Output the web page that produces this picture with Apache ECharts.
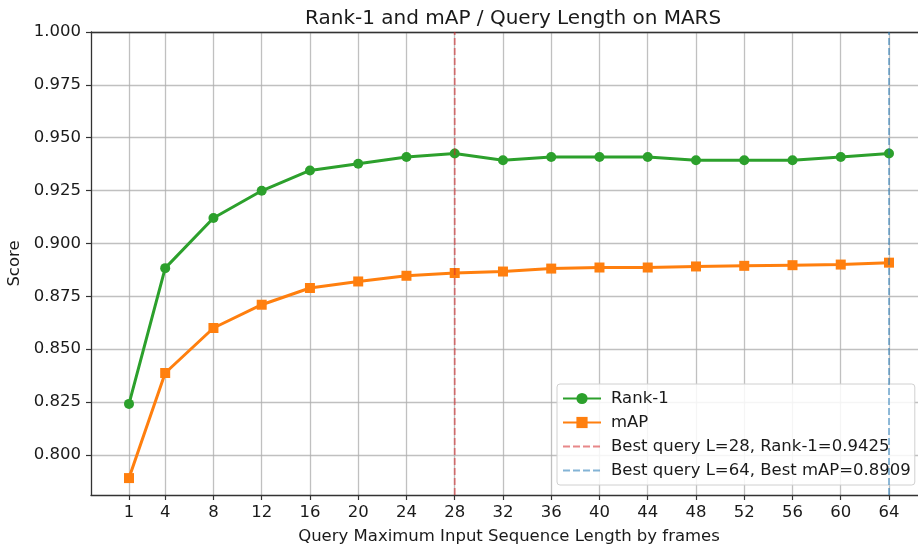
<!DOCTYPE html>
<html><head><meta charset="utf-8">
<script src="https://cdn.jsdelivr.net/npm/echarts@6/dist/echarts.min.js"></script>
<style>html,body{margin:0;padding:0;background:#fff}#c{width:918px;height:549px}</style>
</head><body><div id="c"></div>
<script>
const lengths = [1, 4, 8, 12, 16, 20, 24, 28, 32, 36, 40, 44, 48, 52, 56, 60, 64];
const rank1 = [0.8241, 0.8883, 0.9120, 0.9249, 0.9345, 0.9377, 0.9409, 0.9425, 0.9393, 0.9409, 0.9409, 0.9409, 0.9393, 0.9393, 0.9393, 0.9409, 0.9425];
const mAP = [0.7890, 0.8387, 0.8600, 0.8710, 0.8789, 0.8820, 0.8847, 0.8860, 0.8867, 0.8881, 0.8886, 0.8886, 0.8891, 0.8894, 0.8897, 0.8900, 0.8909];
const yTicks = [0.800, 0.825, 0.850, 0.875, 0.900, 0.925, 0.950, 0.975, 1.000];
const yRange = [0.781, 1.0];
const xRange = [-2.15, 67.15];
const bestRankL = 28, bestRankVal = 0.9425;
const bestMapL = 64, bestMapVal = 0.8909;

const font = 'DejaVu Sans';
const txt = '#1a1a1a';
const chart = echarts.init(document.getElementById('c'), null, {renderer: 'canvas'});
const pair = (xs, ys) => xs.map((x, i) => [x, ys[i]]);
const nameR = 'Best query L=' + bestRankL + ', Rank-1=' + bestRankVal.toFixed(4);
const nameM = 'Best query L=' + bestMapL + ', Best mAP=' + bestMapVal.toFixed(4);
chart.setOption({
  animation: false,
  textStyle: {fontFamily: font},
  title: {text: 'Rank-1 and mAP / Query Length on MARS', left: 300, top: 4,
    textStyle: {fontFamily: font, fontSize: 20, fontWeight: 'normal', color: txt}},
  grid: {left: 91, top: 32, width: 836, height: 463, containLabel: false, outerBoundsMode: 'none'},
  xAxis: [{
    type: 'value', min: xRange[0], max: xRange[1],
    name: 'Query Maximum Input Sequence Length by frames', nameLocation: 'middle', nameGap: 33,
    nameTextStyle: {fontFamily: font, fontSize: 16.5, color: txt},
    axisLine: {onZero: false, lineStyle: {color: '#333', width: 1.3}},
    axisTick: {show: true, length: 5, customValues: lengths, lineStyle: {color: '#333', width: 1.2}},
    axisLabel: {customValues: lengths, fontSize: 16.5, color: txt, margin: 9, fontFamily: font},
    splitLine: {show: true, lineStyle: {color: '#b0b0b0', width: 1.3, opacity: 0.8}}
  }, {
    type: 'value', position: 'top', min: xRange[0], max: xRange[1],
    axisLine: {show: true, onZero: false, lineStyle: {color: '#333', width: 1.3}},
    axisTick: {show: false}, axisLabel: {show: false}, splitLine: {show: false}
  }],
  yAxis: {
    type: 'value', min: yRange[0], max: yRange[1],
    name: 'Score', nameLocation: 'middle', nameGap: 65,
    nameTextStyle: {fontFamily: font, fontSize: 16.5, color: txt},
    axisLine: {show: true, onZero: false, lineStyle: {color: '#333', width: 1.3}},
    axisTick: {show: true, length: 5, customValues: yTicks, lineStyle: {color: '#333', width: 1.2}},
    axisLabel: {customValues: yTicks, fontSize: 16.5, color: txt, margin: 10, fontFamily: font,
      formatter: v => v.toFixed(3)},
    splitLine: {show: true, lineStyle: {color: '#b0b0b0', width: 1.3, opacity: 0.8}}
  },
  legend: {
    orient: 'vertical', left: 557, top: 384, itemGap: 5, itemWidth: 38, itemHeight: 14,
    padding: [5, 4, 5, 5],
    backgroundColor: 'rgba(255,255,255,0.85)', borderColor: '#d0d0d0', borderWidth: 1, borderRadius: 3,
    textStyle: {fontFamily: font, fontSize: 16.5, color: txt, lineHeight: 19, padding: [0, 0, 0, 5]},
    data: ['Rank-1', 'mAP',
      {name: nameR, itemStyle: {opacity: 0}},
      {name: nameM, itemStyle: {opacity: 0}}]
  },
  series: [
    {name: 'Rank-1', type: 'line', data: pair(lengths, rank1), symbol: 'circle', symbolSize: 10,
      lineStyle: {color: '#2ca02c', width: 3}, itemStyle: {color: '#2ca02c'}, z: 4},
    {name: 'mAP', type: 'line', data: pair(lengths, mAP), symbol: 'rect', symbolSize: 10,
      lineStyle: {color: '#ff7f0e', width: 3}, itemStyle: {color: '#ff7f0e'}, z: 4},
    {name: nameR, type: 'line',
      data: [[bestRankL, yRange[0]], [bestRankL, yRange[1]]], showSymbol: false, symbol: 'none',
      lineStyle: {color: '#d62728', width: 1.8, type: [7, 3], opacity: 0.55},
      itemStyle: {color: 'rgba(214,39,40,0.55)'}, z: 5},
    {name: nameM, type: 'line',
      data: [[bestMapL, yRange[0]], [bestMapL, yRange[1]]], showSymbol: false, symbol: 'none',
      lineStyle: {color: '#1f77b4', width: 1.8, type: [7, 3], opacity: 0.55},
      itemStyle: {color: 'rgba(31,119,180,0.55)'}, z: 5}
  ]
});
</script></body></html>
